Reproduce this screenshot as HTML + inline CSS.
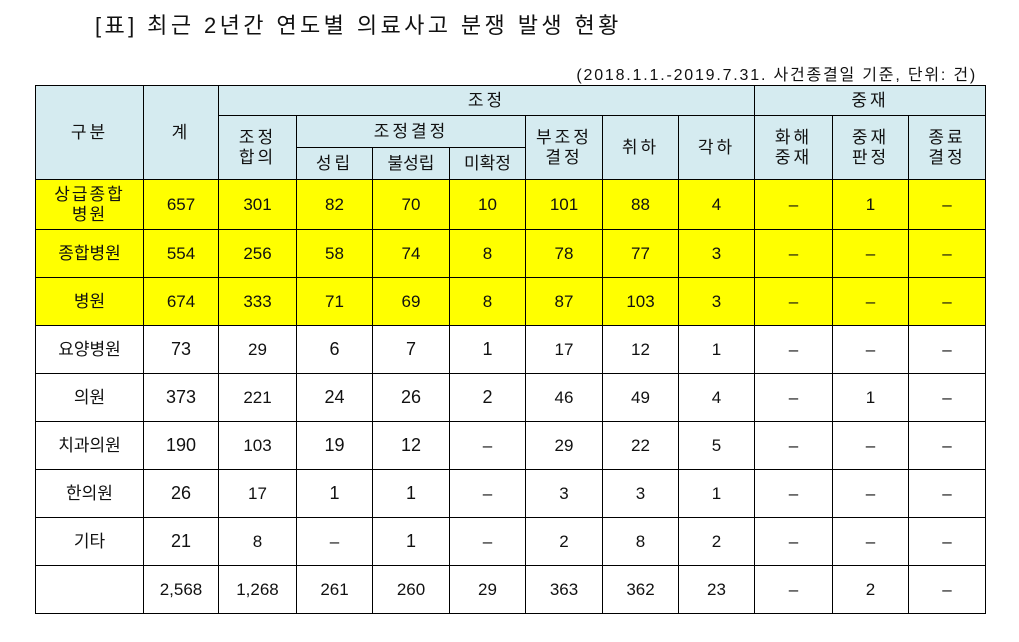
<!DOCTYPE html>
<html><head><meta charset="utf-8"><style>
body{margin:0;width:1019px;height:642px;background:#fff;font-family:"Liberation Sans","Noto Sans CJK KR","NanumGothic",sans-serif;position:relative;overflow:hidden}
.t{position:absolute;left:95px;top:8px;font-size:22px;color:#111;letter-spacing:3.4px}
.s{position:absolute;right:42px;top:61px;font-size:16px;color:#111;letter-spacing:1.8px}
table{position:absolute;left:35px;top:85px;border-collapse:collapse;table-layout:fixed}
td{border:1px solid #000;text-align:center;font-size:17px;color:#111;padding:0;line-height:1.15}
.h td{background:#d5ebf0;font-size:17px;letter-spacing:3px}
.y td{background:#ffff00}
td.n{font-size:18px}
</style></head><body>
<div class="t">[표] 최근 2년간 연도별 의료사고 분쟁 발생 현황</div>
<div class="s">(2018.1.1.-2019.7.31. 사건종결일 기준, 단위: 건)</div>
<table>
<colgroup><col style="width:108px"><col style="width:75px"><col style="width:78px"><col style="width:76px"><col style="width:77px"><col style="width:76px"><col style="width:77px"><col style="width:76px"><col style="width:76px"><col style="width:78px"><col style="width:76px"><col style="width:77px"></colgroup>
<tr class="h" style="height:30px"><td rowspan="3">구분</td><td rowspan="3">계</td><td colspan="7">조정</td><td colspan="3">중재</td></tr>
<tr class="h" style="height:32px"><td rowspan="2">조정<br>합의</td><td colspan="3">조정결정</td><td rowspan="2">부조정<br>결정</td><td rowspan="2">취하</td><td rowspan="2">각하</td><td rowspan="2">화해<br>중재</td><td rowspan="2">중재<br>판정</td><td rowspan="2">종료<br>결정</td></tr>
<tr class="h" style="height:32px"><td>성립</td><td style="letter-spacing:0">불성립</td><td style="letter-spacing:0">미확정</td></tr>
<tr class="y" style="height:50px"><td style="letter-spacing:2px">상급종합<br>병원</td><td>657</td><td>301</td><td>82</td><td>70</td><td>10</td><td>101</td><td>88</td><td>4</td><td>–</td><td>1</td><td>–</td></tr>
<tr class="y" style="height:48px"><td>종합병원</td><td>554</td><td>256</td><td>58</td><td>74</td><td>8</td><td>78</td><td>77</td><td>3</td><td>–</td><td>–</td><td>–</td></tr>
<tr class="y" style="height:48px"><td>병원</td><td>674</td><td>333</td><td>71</td><td>69</td><td>8</td><td>87</td><td>103</td><td>3</td><td>–</td><td>–</td><td>–</td></tr>
<tr style="height:48px"><td>요양병원</td><td class="n">73</td><td>29</td><td class="n">6</td><td class="n">7</td><td class="n">1</td><td>17</td><td>12</td><td>1</td><td>–</td><td>–</td><td>–</td></tr>
<tr style="height:48px"><td>의원</td><td class="n">373</td><td>221</td><td class="n">24</td><td class="n">26</td><td class="n">2</td><td>46</td><td>49</td><td>4</td><td>–</td><td>1</td><td>–</td></tr>
<tr style="height:48px"><td>치과의원</td><td class="n">190</td><td>103</td><td class="n">19</td><td class="n">12</td><td>–</td><td>29</td><td>22</td><td>5</td><td>–</td><td>–</td><td>–</td></tr>
<tr style="height:48px"><td>한의원</td><td class="n">26</td><td>17</td><td class="n">1</td><td class="n">1</td><td>–</td><td>3</td><td>3</td><td>1</td><td>–</td><td>–</td><td>–</td></tr>
<tr style="height:48px"><td>기타</td><td class="n">21</td><td>8</td><td>–</td><td class="n">1</td><td>–</td><td>2</td><td>8</td><td>2</td><td>–</td><td>–</td><td>–</td></tr>
<tr style="height:48px"><td></td><td>2,568</td><td>1,268</td><td>261</td><td>260</td><td>29</td><td>363</td><td>362</td><td>23</td><td>–</td><td>2</td><td>–</td></tr>
</table>
</body></html>
